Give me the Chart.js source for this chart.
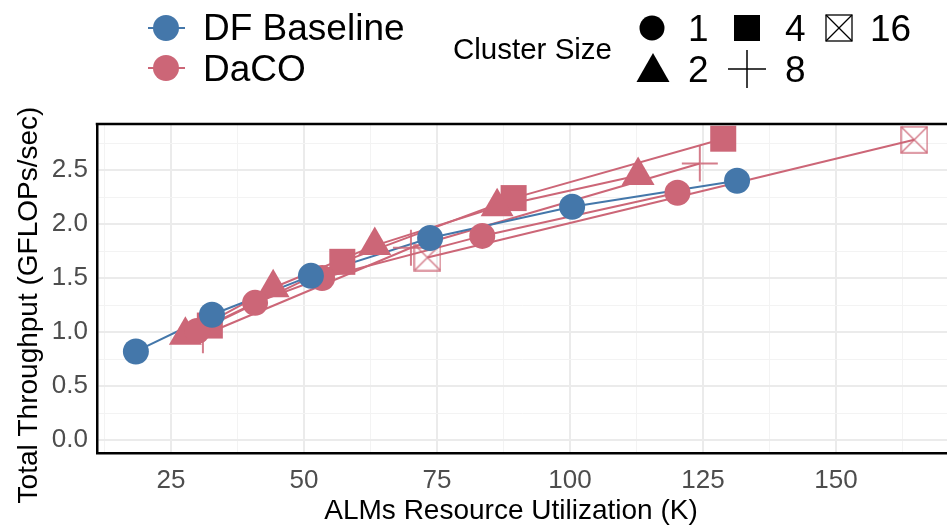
<!DOCTYPE html>
<html>
<head>
<meta charset="utf-8">
<script src="https://cdn.jsdelivr.net/npm/chart.js@4/dist/chart.umd.min.js"></script>
<style>
  html, body { margin: 0; padding: 0; background: #fff; overflow: hidden; }
  #wrap { position: relative; width: 947px; height: 531px; }
  #legend { position: absolute; left: 0; top: 0; }
  #legend text { font-family: "Liberation Sans", Arial, sans-serif; fill: #000; }
</style>
</head>
<body>
<div id="wrap">
  <canvas id="chart" width="947" height="531"></canvas>
  <svg id="legend" width="947" height="110">
    <line x1="148" y1="28" x2="185" y2="28" stroke="#4477AA" stroke-width="2"/>
    <circle cx="166" cy="28" r="13" fill="#4477AA"/>
    <text x="203" y="40" font-size="37">DF Baseline</text>
    <line x1="148" y1="68" x2="185" y2="68" stroke="#CC6677" stroke-width="2"/>
    <circle cx="166" cy="68" r="13" fill="#CC6677"/>
    <text x="203" y="81" font-size="37">DaCO</text>

    <text x="453" y="59" font-size="29.5">Cluster Size</text>

    <circle cx="652" cy="28" r="12.5" fill="#000"/>
    <text x="688" y="41" font-size="37">1</text>
    <rect x="734" y="15" width="26" height="26" fill="#000"/>
    <text x="785" y="41" font-size="37">4</text>
    <rect x="826" y="15" width="26" height="26" fill="none" stroke="#000" stroke-width="1.3"/>
    <line x1="826" y1="15" x2="852" y2="41" stroke="#000" stroke-width="1.3"/>
    <line x1="852" y1="15" x2="826" y2="41" stroke="#000" stroke-width="1.3"/>
    <text x="870" y="41" font-size="37">16</text>

    <polygon points="653,53 669.5,82 636.5,82" fill="#000"/>
    <text x="688" y="82" font-size="37">2</text>
    <line x1="728" y1="69" x2="766" y2="69" stroke="#000" stroke-width="1.5"/>
    <line x1="747" y1="50" x2="747" y2="88" stroke="#000" stroke-width="1.5"/>
    <text x="785" y="82" font-size="37">8</text>
  </svg>
</div>
<script>
// throughput vs ALMs, DF baseline and DaCO per cluster size
const clusterSizes = ["1", "2", "4", "8", "16"];

const dfBaselineX = [18.4, 32.7, 51.3, 73.7, 100.4, 131.4];
const dfBaselineY = [0.82, 1.16, 1.52, 1.87, 2.16, 2.40];

const dacoC1X = [29.9, 40.8, 53.4, 83.5, 120.2];
const dacoC1Y = [1.01, 1.27, 1.50, 1.89, 2.29];
const dacoC2X = [27.7, 44.2, 63.3, 86.3, 112.8];
const dacoC2Y = [0.97, 1.41, 1.80, 2.16, 2.45];
const dacoC4X = [32.3, 57.2, 89.4, 128.8];
const dacoC4Y = [1.06, 1.65, 2.24, 2.79];
const dacoC8X = [31.0, 70.1, 124.4];
const dacoC8Y = [0.97, 1.78, 2.56];
const dacoC16X = [73.2, 164.7];
const dacoC16Y = [1.69, 2.78];

const xTitle = "ALMs Resource Utilization (K)";
const yTitle = "Total Throughput (GFLOPs/sec)";

const blue = "#4477AA";
const pink = "#CC6677";
const pinkLight = "rgba(204,102,119,0.85)";

function pts(xs, ys) {
    return xs.map((x, i) => ({ x: x, y: ys[i] }));
}

// box with an X for cluster size 16
const boxX = document.createElement("canvas");
boxX.width = 28; boxX.height = 28;
(function () {
    const c = boxX.getContext("2d");
    c.strokeStyle = pinkLight;
    c.lineWidth = 1.5;
    c.strokeRect(1, 1, 26, 26);
    c.beginPath();
    c.moveTo(1, 1); c.lineTo(27, 27);
    c.moveTo(27, 1); c.lineTo(1, 27);
    c.stroke();
})();

const dacoSeries = [
    { xs: dacoC1X, ys: dacoC1Y, style: "circle", r: 13, bw: 0 },
    { xs: dacoC2X, ys: dacoC2Y, style: "triangle", r: 19, bw: 0 },
    { xs: dacoC4X, ys: dacoC4Y, style: "rect", r: 18.4, bw: 0 },
    { xs: dacoC8X, ys: dacoC8Y, style: "cross", r: 18, bw: 2 },
    { xs: dacoC16X, ys: dacoC16Y, style: boxX, r: 14, bw: 0 }
];

const datasets = [];
dacoSeries.forEach((s, i) => {
    datasets.push({
        label: "DaCO " + clusterSizes[i] + " line",
        data: pts(s.xs, s.ys),
        showLine: true,
        borderColor: pink,
        borderWidth: 2,
        pointRadius: 0,
        order: 40
    });
    datasets.push({
        label: "DaCO " + clusterSizes[i],
        data: pts(s.xs, s.ys),
        showLine: false,
        pointStyle: s.style,
        pointRadius: s.r,
        pointBackgroundColor: pink,
        pointBorderColor: s.bw ? pinkLight : pink,
        pointBorderWidth: s.bw,
        order: 20
    });
});
datasets.push({
    label: "DF Baseline line",
    data: pts(dfBaselineX, dfBaselineY),
    showLine: true,
    borderColor: blue,
    borderWidth: 2,
    pointRadius: 0,
    order: 30
});
datasets.push({
    label: "DF Baseline",
    data: pts(dfBaselineX, dfBaselineY),
    showLine: false,
    pointStyle: "circle",
    pointRadius: 13,
    pointBackgroundColor: blue,
    pointBorderWidth: 0,
    order: 10
});

const fontFamily = "'Liberation Sans', Arial, sans-serif";

// top frame line and the two axis titles
const frameAndTitles = {
    id: "frameAndTitles",
    afterDraw(chart) {
        const a = chart.chartArea, ctx = chart.ctx;
        ctx.save();
        ctx.strokeStyle = "#000";
        ctx.lineWidth = 2.5;
        ctx.beginPath();
        ctx.moveTo(a.left - 1.25, a.top);
        ctx.lineTo(a.right, a.top);
        ctx.stroke();

        ctx.fillStyle = "#000";
        ctx.font = "28px " + fontFamily;
        ctx.textAlign = "center";
        ctx.textBaseline = "middle";
        ctx.fillText(xTitle, 511, 511);

        ctx.translate(29, 305);
        ctx.rotate(-Math.PI / 2);
        ctx.fillText(yTitle, 0, 0);
        ctx.restore();
    }
};

new Chart("chart", {
    type: "scatter",
    data: { datasets: datasets },
    plugins: [frameAndTitles],
    options: {
        responsive: false,
        animation: false,
        layout: { padding: { top: 124, left: 0, right: 0, bottom: 0 }, autoPadding: false },
        plugins: { legend: { display: false }, tooltip: { enabled: false } },
        scales: {
            x: {
                type: "linear",
                min: 11.09,
                max: 170.86,
                afterFit: s => { s.height = 78; },
                ticks: {
                    stepSize: 12.5,
                    includeBounds: false,
                    autoSkip: false,
                    maxRotation: 0,
                    padding: 12,
                    color: "#4D4D4D",
                    font: { family: fontFamily, size: 26 },
                    callback: v => (v % 25 === 0 ? String(v) : "")
                },
                grid: {
                    drawTicks: false,
                    color: c => (c.tick && c.tick.value % 25 === 0 ? "#EBEBEB" : "#F3F3F3"),
                    lineWidth: c => (c.tick && c.tick.value % 25 === 0 ? 2 : 1)
                },
                border: { display: true, color: "#000", width: 2.5 }
            },
            y: {
                type: "linear",
                min: -0.12,
                max: 2.926,
                afterFit: s => { s.width = 97; },
                ticks: {
                    stepSize: 0.25,
                    includeBounds: false,
                    autoSkip: false,
                    padding: 9,
                    color: "#4D4D4D",
                    font: { family: fontFamily, size: 26 },
                    callback: v => (Math.abs(v * 2 - Math.round(v * 2)) < 1e-6 ? v.toFixed(1) : "")
                },
                grid: {
                    drawTicks: false,
                    color: c => (c.tick && Math.abs(c.tick.value * 2 - Math.round(c.tick.value * 2)) < 1e-6 ? "#EBEBEB" : "#F3F3F3"),
                    lineWidth: c => (c.tick && Math.abs(c.tick.value * 2 - Math.round(c.tick.value * 2)) < 1e-6 ? 2 : 1)
                },
                border: { display: true, color: "#000", width: 2.5 }
            }
        }
    }
});
</script>
</body>
</html>
